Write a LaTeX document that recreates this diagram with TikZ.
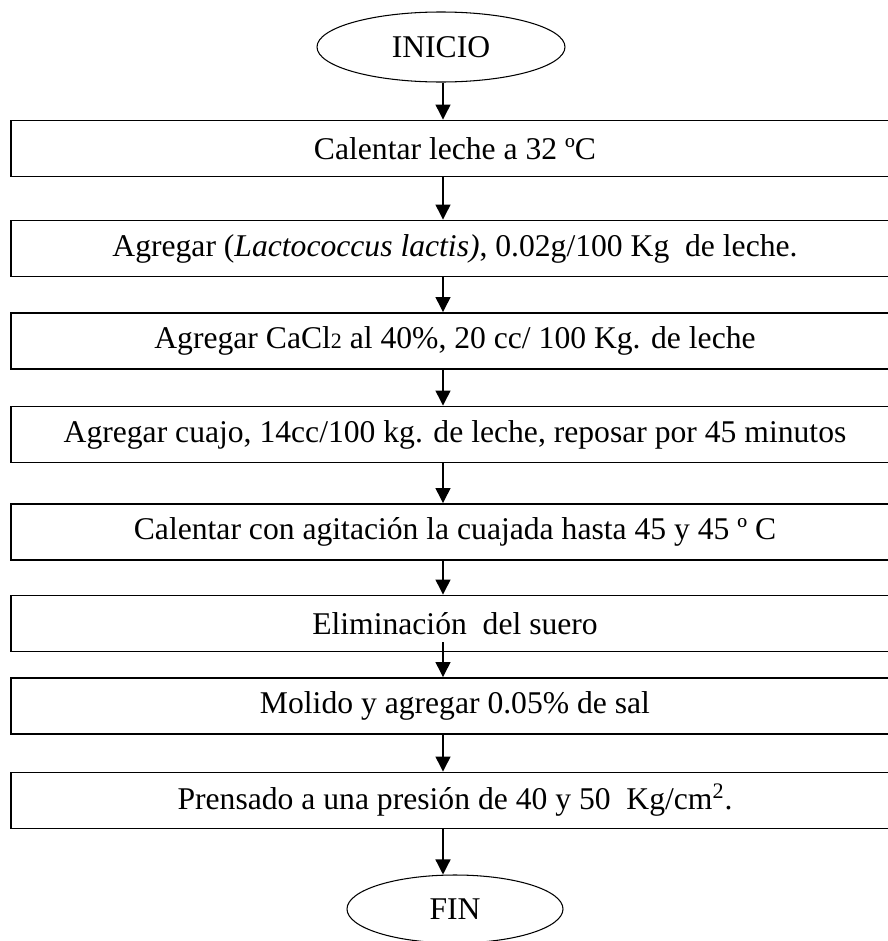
\documentclass[tikz,border=0pt]{standalone}
\usepackage{fontspec}
\setmainfont{Liberation Serif}
\usetikzlibrary{shapes.geometric,arrows.meta}

\begin{document}
\begin{tikzpicture}
\tikzstyle{term}=[draw,ellipse,line width=0.6pt,inner sep=0pt,minimum width=4.96cm,minimum height=1.4cm,font=\fontsize{18}{21}\selectfont];
\tikzstyle{paso}=[draw,rectangle,line width=1.1pt,inner sep=0pt,minimum width=17.76cm,minimum height=1.12cm,font=\fontsize{18}{21}\selectfont];
\tikzstyle{dir}=[line width=0.75pt,-{Triangle[length=0.3cm,width=0.3cm]}];
\useasboundingbox (0,0) rectangle (17.74,-18.82);
\coordinate (axis) at (8.86,0);
\node [term] (v0) at (8.82,-0.94) {INICIO};
\node [paso] (v1) at (9.1,-2.97) {Calentar leche a 32 ºC};
\node [paso] (v2) at (9.1,-4.97) {Agregar (\textit{Lactococcus lactis)}, 0.02g/100 Kg\ \ de leche.};
\node [paso] (v3) at (9.1,-6.82) {Agregar CaCl{\fontsize{12.5}{15}\selectfont 2} al 40\%, 20 cc/ 100 Kg. de leche};
\node [paso] (v4) at (9.1,-8.69) {Agregar cuajo, 14cc/100 kg. de leche, reposar por 45 minutos};
\node [paso] (v5) at (9.1,-10.64) {Calentar con agitación la cuajada hasta 45 y 45 º C};
\node [paso] (v6) at (9.1,-12.47) {Eliminación\ \ del suero};
\node [paso] (v7) at (9.1,-14.12) {Molido y agregar 0.05\% de sal};
\node [paso] (v8) at (9.1,-16.01) {Prensado a una presión de 40 y 50\ \ Kg/cm\textsuperscript{2}.};
\node [term,minimum width=4.32cm,minimum height=1.36cm] (v9) at (9.1,-18.18) {FIN};
\draw [dir] (v0.south -| axis) -- (v1.north -| axis);
\draw [dir] (v1.south -| axis) -- (v2.north -| axis);
\draw [dir] (v2.south -| axis) -- (v3.north -| axis);
\draw [dir] (v3.south -| axis) -- (v4.north -| axis);
\draw [dir] (v4.south -| axis) -- (v5.north -| axis);
\draw [dir] (v5.south -| axis) -- (v6.north -| axis);
\draw [dir] ([yshift=0.2cm]v6.south -| axis) -- (v7.north -| axis);
\draw [dir] (v7.south -| axis) -- (v8.north -| axis);
\draw [dir] (v8.south -| axis) -- (v9.north -| axis);
\end{tikzpicture}
\end{document}
